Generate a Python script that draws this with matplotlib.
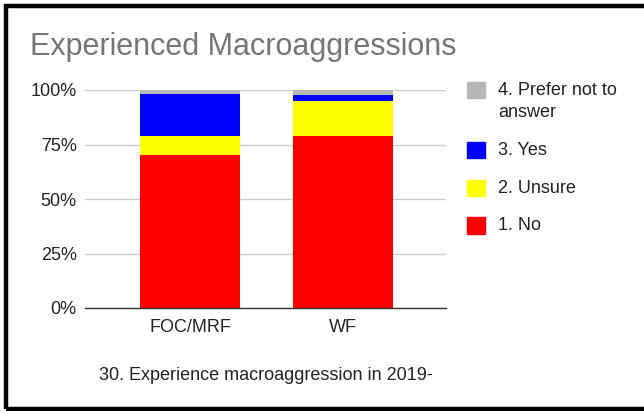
import matplotlib
matplotlib.use("Agg")
import matplotlib.pyplot as plt
from matplotlib.patches import Patch, Rectangle
from matplotlib.ticker import PercentFormatter

plt.rcParams['font.family'] = ['Liberation Sans', 'DejaVu Sans']

categories = ["FOC/MRF", "WF"]
series_names = ["1. No", "2. Unsure", "3. Yes", "4. Prefer not to\nanswer"]
no_vals = [70.0, 79.0]
unsure_vals = [9.0, 16.1]
yes_vals = [19.3, 2.5]
prefer_vals = [1.7, 2.4]
colors = ["#ff0000", "#ffff00", "#0000ff", "#b7b7b7"]
yticks = [0, 25, 50, 75, 100]

title = "Experienced Macroaggressions"
xlabel = "30. Experience macroaggression in 2019-"

fig = plt.figure(figsize=(6.44, 4.11), dpi=100)
ax = fig.add_axes([85/644, 103/411, (446-85)/644, (308-90)/411])

x = list(range(len(categories)))
bottom = [0.0] * len(categories)
handles = []
for vals, name, c in zip([no_vals, unsure_vals, yes_vals, prefer_vals], series_names, colors):
    ax.bar(x, vals, width=0.654, bottom=bottom, color=c, zorder=3, linewidth=0)
    bottom = [b + v for b, v in zip(bottom, vals)]
    handles.append(Patch(facecolor=c, edgecolor=c, label=name))

ax.set_xlim(-0.686, 1.673)
ax.set_ylim(0, 100)
ax.set_yticks(yticks)
ax.yaxis.set_major_formatter(PercentFormatter(decimals=0))
ax.set_xticks(x)
ax.set_xticklabels(categories)
ax.tick_params(axis='both', length=0, labelsize=13, labelcolor="#222222")
ax.tick_params(axis='y', pad=6)
ax.tick_params(axis='x', pad=8)
ax.grid(axis='y', color="#cccccc", linewidth=1.0, zorder=0)
for s in ["top", "right", "left"]:
    ax.spines[s].set_visible(False)
ax.spines["bottom"].set_color("#333333")
ax.spines["bottom"].set_linewidth(1.0)
ax.spines["bottom"].set_zorder(4)

leg = fig.legend(handles=handles[::-1], loc="upper left",
                 bbox_to_anchor=(467/644, 1 - 82/411), frameon=False,
                 fontsize=13, handlelength=1.0, handleheight=1.0,
                 handletextpad=0.72, labelspacing=1.15, borderpad=0,
                 borderaxespad=0, labelcolor="#222222")
for t in leg.get_texts():
    t.set_linespacing(1.4)
try:
    for col in leg._legend_handle_box.get_children():
        for row in col.get_children():
            row.align = "top"
except Exception:
    pass

fig.text(30/644, 1 - 47/411, title, fontsize=22, color="#757575", ha="left", va="center")
fig.text(265.5/644, 1 - 375/411, xlabel, fontsize=13, color="#222222", ha="center", va="center")

fig.patches.append(Rectangle((6/644, 2.5/411), 1.2, 1 - 9/411, transform=fig.transFigure,
                             fill=False, edgecolor="black", linewidth=3.2, clip_on=False))

fig.savefig("out.png", dpi=100)
